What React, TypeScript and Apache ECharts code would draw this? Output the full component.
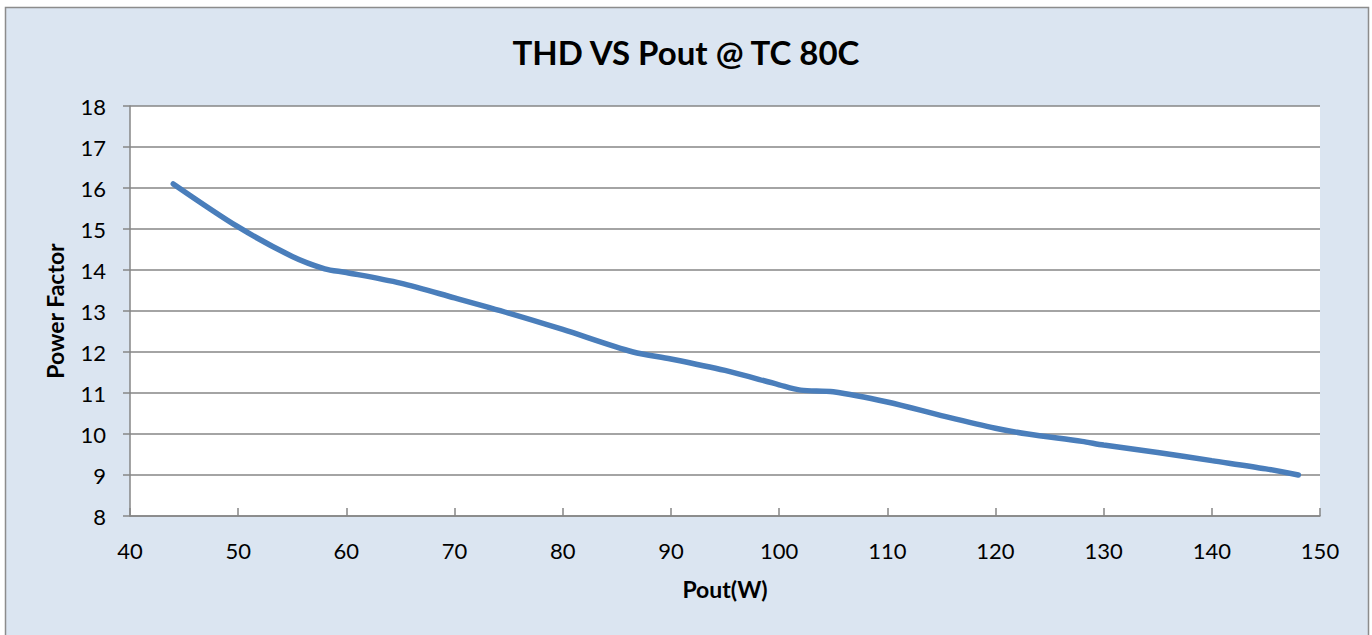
import React, { useEffect, useRef } from "react";
import * as echarts from "echarts";

const poutW = [44, 50, 55, 58, 60, 65, 70, 75, 80, 86.5, 90, 95, 100, 102, 105, 110, 115, 120, 123, 128, 130, 135, 140, 145, 148];
const powerFactor = [16.1, 15.05, 14.33, 14.03, 13.94, 13.68, 13.32, 12.95, 12.55, 12.0, 11.83, 11.55, 11.2, 11.07, 11.03, 10.78, 10.45, 10.14, 10.0, 9.82, 9.73, 9.55, 9.35, 9.15, 9.0];

const titleText = "THD VS Pout @ TC 80C";
const xName = "Pout(W)";
const yName = "Power Factor";

export default function App() {
  const ref = useRef<HTMLDivElement>(null);
  useEffect(() => {
    if (!ref.current) return;
    const chart = echarts.init(ref.current, undefined, { renderer: "svg" });
    const font = "Lato, 'Open Sans', sans-serif";
    const data = poutW.map((x, i) => [x, powerFactor[i]]);
    chart.setOption({
      animation: false,
      backgroundColor: "#ffffff",
      graphic: [
        {
          type: "rect",
          z: -10,
          silent: true,
          shape: { x: 5.5, y: 7.5, width: 1363, height: 640 },
          style: { fill: "#DBE5F1", stroke: "#8C8C8C", lineWidth: 1.5 },
        },
      ],
      title: {
        text: titleText,
        left: "center",
        top: 30,
        textStyle: { fontFamily: font, fontWeight: "bold", fontSize: 33, color: "#000" },
      },
      grid: { left: 130, right: 52, top: 106, bottom: 119, show: true, backgroundColor: "#ffffff", borderWidth: 0 },
      xAxis: {
        type: "value",
        min: 40,
        max: 150,
        interval: 10,
        name: xName,
        nameLocation: "middle",
        nameGap: 61,
        nameTextStyle: { fontFamily: font, fontWeight: "bold", fontSize: 23, color: "#000" },
        axisLine: { show: true, lineStyle: { color: "#868686", width: 1.5 } },
        axisTick: { show: true, inside: true, length: 8, lineStyle: { color: "#868686", width: 1.5 } },
        axisLabel: { fontFamily: font, fontSize: 22, color: "#000", margin: 23 },
        splitLine: { show: false },
      },
      yAxis: {
        type: "value",
        min: 8,
        max: 18,
        interval: 1,
        name: yName,
        nameLocation: "middle",
        nameGap: 64,
        nameRotate: 90,
        nameTextStyle: { fontFamily: font, fontWeight: "bold", fontSize: 23, color: "#000" },
        axisLine: { show: true, lineStyle: { color: "#868686", width: 1.5 } },
        axisTick: { show: true, inside: false, length: 7, lineStyle: { color: "#868686", width: 1.5 } },
        axisLabel: { fontFamily: font, fontSize: 22, color: "#000", margin: 24 },
        splitLine: { show: true, lineStyle: { color: "#868686", width: 1.5 } },
      },
      series: [
        {
          type: "line",
          data,
          smooth: 0.3,
          showSymbol: false,
          lineStyle: { color: "#4A7EBB", width: 5.5, cap: "round" },
          itemStyle: { color: "#4A7EBB" },
        },
      ],
    });
    return () => chart.dispose();
  }, []);
  return (
    <div
      ref={ref}
      style={{ position: "fixed", left: 0, top: 0, width: 1372, height: 635 }}
    />
  );
}
